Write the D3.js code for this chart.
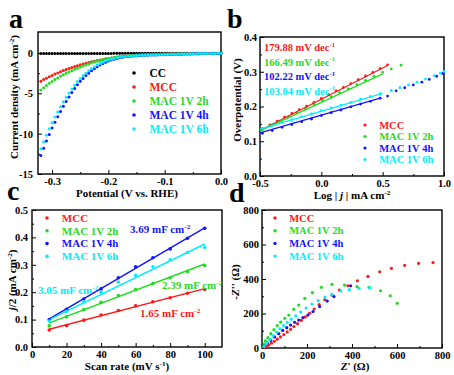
<!DOCTYPE html>
<html>
<head>
<meta charset="utf-8">
<script src="https://cdn.jsdelivr.net/npm/d3@7"></script>
<style>
  body { margin: 0; background: #fff; }
  svg { display: block; }
</style>
</head>
<body>
<script>
// ---------- data ----------
const seriesNames = ['MCC', 'MAC 1V 2h', 'MAC 1V 4h', 'MAC 1V 6h'];
const seriesColors = ['#ff1a1a', '#1fdd1f', '#1414ff', '#00eeff'];

// (a) LSV
const potA = [-0.320,-0.315,-0.310,-0.305,-0.300,-0.295,-0.290,-0.285,-0.280,-0.275,-0.270,-0.265,-0.260,-0.255,-0.250,-0.245,
  -0.240,-0.235,-0.230,-0.225,-0.220,-0.215,-0.210,-0.205,-0.200,-0.195,-0.190,-0.185,-0.180,-0.175,-0.170,-0.165,
  -0.160,-0.155,-0.150,-0.145,-0.140,-0.135,-0.130,-0.125,-0.120,-0.115,-0.110,-0.105,-0.100,-0.095,-0.090,-0.085,
  -0.080,-0.075,-0.070,-0.065,-0.060,-0.055,-0.050,-0.045,-0.040,-0.035,-0.030,-0.025,-0.020,-0.015,-0.010,-0.005,0.000];
const jCC = [-0.06,-0.06,-0.06,-0.06,-0.06,-0.06,-0.06,-0.06,-0.06,-0.06,-0.05,-0.05,-0.05,-0.05,-0.05,-0.05,
  -0.05,-0.05,-0.05,-0.05,-0.05,-0.05,-0.05,-0.05,-0.05,-0.05,-0.04,-0.04,-0.04,-0.04,-0.04,-0.04,
  -0.04,-0.04,-0.04,-0.04,-0.04,-0.04,-0.04,-0.04,-0.03,-0.03,-0.03,-0.03,-0.03,-0.03,-0.03,-0.03,
  -0.03,-0.03,-0.03,-0.03,-0.03,-0.03,-0.02,-0.02,-0.02,-0.02,-0.02,-0.02,-0.02,-0.02,-0.02,-0.02,-0.02];
const jMCC = [-3.5,-3.3,-3.12,-2.95,-2.78,-2.62,-2.47,-2.32,-2.18,-2.05,-1.92,-1.8,-1.68,-1.57,-1.47,-1.37,
  -1.27,-1.18,-1.1,-1.02,-0.94,-0.87,-0.8,-0.73,-0.67,-0.61,-0.56,-0.51,-0.46,-0.42,-0.38,-0.35,
  -0.32,-0.29,-0.27,-0.25,-0.23,-0.22,-0.21,-0.2,-0.19,-0.18,-0.17,-0.16,-0.15,-0.14,-0.14,-0.13,
  -0.13,-0.12,-0.12,-0.11,-0.11,-0.1,-0.1,-0.09,-0.09,-0.08,-0.08,-0.07,-0.07,-0.06,-0.06,-0.05,-0.05];
const j2h = [-4.6,-4.3,-4.02,-3.76,-3.52,-3.3,-3.09,-2.89,-2.7,-2.52,-2.35,-2.19,-2.03,-1.88,-1.74,-1.61,
  -1.48,-1.36,-1.24,-1.13,-1.03,-0.93,-0.84,-0.76,-0.68,-0.61,-0.55,-0.49,-0.44,-0.4,-0.36,-0.33,
  -0.3,-0.28,-0.26,-0.24,-0.22,-0.21,-0.2,-0.19,-0.18,-0.17,-0.16,-0.15,-0.14,-0.14,-0.13,-0.13,
  -0.12,-0.12,-0.11,-0.11,-0.1,-0.1,-0.09,-0.09,-0.08,-0.08,-0.07,-0.07,-0.06,-0.06,-0.05,-0.05,-0.04];
const j4h = [-12.7,-11.8,-10.9,-10.1,-9.3,-8.6,-7.9,-7.25,-6.6,-6.0,-5.45,-4.9,-4.4,-3.95,-3.5,-3.15,
  -2.8,-2.5,-2.2,-1.95,-1.7,-1.5,-1.3,-1.15,-1.0,-0.88,-0.78,-0.68,-0.6,-0.53,-0.48,-0.44,
  -0.4,-0.37,-0.34,-0.32,-0.3,-0.28,-0.27,-0.26,-0.25,-0.24,-0.23,-0.22,-0.21,-0.2,-0.19,-0.18,
  -0.17,-0.16,-0.15,-0.14,-0.13,-0.12,-0.11,-0.1,-0.09,-0.08,-0.08,-0.07,-0.06,-0.06,-0.05,-0.05,-0.04];
const j6h = [-11.9,-11.0,-10.2,-9.4,-8.65,-7.95,-7.3,-6.65,-6.05,-5.5,-4.95,-4.45,-4.0,-3.55,-3.15,-2.8,
  -2.5,-2.2,-1.95,-1.7,-1.5,-1.3,-1.15,-1.0,-0.88,-0.78,-0.68,-0.6,-0.53,-0.47,-0.43,-0.39,
  -0.36,-0.33,-0.31,-0.29,-0.27,-0.26,-0.25,-0.24,-0.23,-0.22,-0.21,-0.2,-0.19,-0.18,-0.17,-0.16,
  -0.15,-0.14,-0.13,-0.12,-0.12,-0.11,-0.1,-0.09,-0.08,-0.08,-0.07,-0.06,-0.06,-0.05,-0.05,-0.04,-0.04];

// (b) Tafel: [log|j|, overpotential]
const tafelMCC = [[-0.48,0.136],[-0.42,0.147],[-0.36,0.158],[-0.30,0.169],[-0.24,0.180],[-0.18,0.191],[-0.12,0.201],
  [-0.06,0.212],[0.00,0.223],[0.06,0.234],[0.12,0.245],[0.18,0.255],[0.24,0.266],[0.30,0.277],[0.36,0.288],
  [0.42,0.298],[0.48,0.309],[0.54,0.320]];
const tafel2h = [[-0.48,0.134],[-0.41,0.146],[-0.34,0.158],[-0.27,0.170],[-0.20,0.182],[-0.13,0.193],[-0.06,0.205],
  [0.01,0.217],[0.08,0.228],[0.15,0.240],[0.22,0.251],[0.29,0.263],[0.36,0.275],[0.43,0.287],[0.50,0.298],
  [0.57,0.308],[0.65,0.319]];
const tafel4h = [[-0.48,0.123],[-0.40,0.131],[-0.32,0.140],[-0.24,0.148],[-0.16,0.156],[-0.08,0.164],[0.00,0.174],
  [0.08,0.182],[0.16,0.190],[0.24,0.199],[0.32,0.207],[0.40,0.215],[0.48,0.224],[0.54,0.230],[0.61,0.245],
  [0.68,0.254],[0.75,0.262],[0.82,0.270],[0.88,0.278],[0.94,0.287],[0.99,0.295]];
const tafel6h = [[-0.48,0.137],[-0.40,0.146],[-0.32,0.154],[-0.24,0.162],[-0.16,0.171],[-0.08,0.179],[0.00,0.188],
  [0.08,0.196],[0.16,0.204],[0.24,0.212],[0.32,0.221],[0.40,0.229],[0.48,0.237],[0.57,0.246],[0.64,0.254],
  [0.71,0.262],[0.78,0.270],[0.85,0.279],[0.92,0.289],[0.97,0.296],[1.00,0.301]];
const tafelFits = [[[-0.5,0.131],[0.54,0.318]], [[-0.5,0.130],[0.5,0.294]], [[-0.5,0.124],[0.48,0.224]], [[-0.5,0.135],[0.5,0.238]]];
const tafelSlopes = ['179.88', '166.49', '102.22', '103.04'];

// (c) Cdl
const scanRates = [10, 20, 30, 40, 50, 60, 70, 80, 90, 100];
const cdlMCC = [0.062, 0.078, 0.098, 0.117, 0.133, 0.150, 0.165, 0.180, 0.196, 0.210];
const cdl2h = [0.077, 0.110, 0.137, 0.163, 0.188, 0.210, 0.232, 0.253, 0.276, 0.297];
const cdl4h = [0.100, 0.138, 0.175, 0.212, 0.253, 0.293, 0.326, 0.358, 0.397, 0.433];
const cdl6h = [0.095, 0.130, 0.165, 0.200, 0.237, 0.262, 0.293, 0.318, 0.345, 0.363];
const cdlFits = [[[10,0.065],[100,0.213]], [[10,0.088],[100,0.303]], [[10,0.103],[100,0.435]], [[10,0.100],[100,0.376]]];
const cdlValues = ['1.65', '2.39', '3.69', '3.05'];

// (d) Nyquist: [Z', -Z'']
const nyqMCC = [[12,4],[20,10],[30,18],[42,28],[55,39],[68,51],[82,64],[97,78],[112,93],[127,108],[142,124],
  [158,141],[175,160],[193,180],[212,202],[232,226],[254,252],[279,280],[311,307],[344,336],[382,361],[424,390],
  [471,415],[523,442],[575,462],[634,479],[696,491],[760,495]];
const nyq2h = [[6,8],[10,22],[15,41],[26,60],[39,83],[53,106],[68,130],[83,150],[101,172],[119,191],[141,224],
  [163,249],[190,288],[224,321],[264,352],[311,369],[367,365],[422,356],[476,352],[527,332],[570,303],[601,259]];
const nyq4h = [[9,13],[24,29],[39,44],[56,64],[74,83],[92,102],[110,118],[127,133],[145,149],[163,162],[182,176],
  [204,191],[227,211],[256,240],[290,272],[320,298],[394,361]];
const nyq6h = [[10,12],[22,30],[35,50],[50,72],[65,92],[80,112],[96,130],[112,148],[130,166],[150,186],[172,208],
  [196,232],[222,255],[250,275],[280,295],[311,311],[350,330],[388,338],[431,346],[479,350]];

// ---------- drawing ----------
const FONT = '"Liberation Serif","Times New Roman",serif';
const svg = d3.select('body').append('svg').attr('width', 454).attr('height', 375)
  .attr('font-family', FONT).attr('font-weight', 'bold');

function styleAxis(g, size) {
  g.select('.domain').remove();
  g.selectAll('line').attr('stroke', '#000').attr('stroke-width', 1);
  g.attr('font-family', FONT).attr('font-size', size).attr('font-weight', 'bold');
  g.selectAll('text').attr('fill', '#000');
}

function makePanel(p) {
  const x = d3.scaleLinear().domain(p.xDomain).range([p.left, p.right]);
  const y = d3.scaleLinear().domain(p.yDomain).range([p.bottom, p.top]);
  const g = svg.append('g');
  g.append('g').attr('transform', `translate(0,${p.bottom})`)
    .call(d3.axisBottom(x).tickValues(p.xMinor).tickSize(-2).tickFormat(''))
    .call(a => styleAxis(a, 10.5));
  g.append('g').attr('transform', `translate(${p.left},0)`)
    .call(d3.axisLeft(y).tickValues(p.yMinor).tickSize(-2).tickFormat(''))
    .call(a => styleAxis(a, 10.5));
  g.append('g').attr('transform', `translate(0,${p.bottom})`)
    .call(d3.axisBottom(x).tickValues(p.xTicks).tickSize(-4).tickPadding(p.xPad).tickFormat(p.xFmt))
    .call(a => styleAxis(a, 10.5));
  g.append('g').attr('transform', `translate(${p.left},0)`)
    .call(d3.axisLeft(y).tickValues(p.yTicks).tickSize(-4).tickPadding(p.yPad).tickFormat(p.yFmt))
    .call(a => styleAxis(a, 10.5));
  g.append('rect').attr('x', p.left).attr('y', p.top)
    .attr('width', p.right - p.left).attr('height', p.bottom - p.top)
    .attr('fill', 'none').attr('stroke', '#000').attr('stroke-width', 1.4);
  const plot = g.append('g');
  return {x, y, g, plot};
}

// rich text: parts = [[text, 'n'|'i'|'sup']]
function richText(parent, parts, size) {
  const t = parent.append('text').attr('font-size', size);
  let up = false;
  parts.forEach(([s, kind]) => {
    const ts = t.append('tspan').text(s);
    if (kind === 'i') ts.attr('font-style', 'italic');
    if (kind === 'sup' && !up) { ts.attr('dy', -size * 0.4).attr('font-size', size * 0.65); up = true; }
    else if (kind !== 'sup' && up) { ts.attr('dy', size * 0.4); up = false; }
  });
  return t;
}

function panelLabel(txt, x, y) {
  svg.append('text').attr('x', x).attr('y', y).attr('font-size', 28).text(txt);
}

function legend(g, items, x0, y0, dy, size, r) {
  items.forEach((it, i) => {
    g.append('circle').attr('cx', x0).attr('cy', y0 + i * dy).attr('r', r).attr('fill', it.color);
    g.append('text').attr('x', x0 + (size * 1.35)).attr('y', y0 + i * dy + size * 0.35)
      .attr('font-size', size).attr('fill', it.color).text(it.name);
  });
}

const fmt1 = d => d.toFixed(1);
const fmt0 = d => String(d);

// ---- panel a ----
{
  const p = makePanel({left: 38, right: 221, top: 32, bottom: 174,
    xDomain: [-0.325, 0], yDomain: [-15, 2.6],
    xTicks: [-0.3, -0.2, -0.1, 0], xMinor: [-0.25, -0.15, -0.05], xFmt: fmt1, xPad: 4,
    yTicks: [0, -5, -10, -15], yMinor: [-2.5, -7.5, -12.5], yFmt: fmt0, yPad: 5});
  const all = [jCC, jMCC, j2h, j4h, j6h];
  const cols = ['#000', ...seriesColors];
  all.forEach((arr, k) => {
    p.plot.selectAll(null).data(arr).join('circle')
      .attr('cx', (d, i) => p.x(potA[i])).attr('cy', d => p.y(d))
      .attr('r', 1.5).attr('fill', cols[k]);
  });
  legend(p.g, [{name: 'CC', color: '#000'}, ...seriesNames.map((n, i) => ({name: n, color: seriesColors[i]}))],
    134, 73, 14, 11.5, 1.8);
  richText(p.g, [['Current density (mA cm', 'n'], ['-2', 'sup'], [')', 'n']], 11)
    .attr('transform', 'translate(18,97) rotate(-90)').attr('text-anchor', 'middle');
  p.g.append('text').attr('x', 127).attr('y', 197).attr('font-size', 11)
    .attr('text-anchor', 'middle').text('Potential (V vs. RHE)');
  panelLabel('a', 9, 28);
}

// ---- panel b ----
{
  const p = makePanel({left: 260, right: 444, top: 37, bottom: 176,
    xDomain: [-0.5, 1.0], yDomain: [0, 0.4],
    xTicks: [-0.5, 0, 0.5, 1.0], xMinor: [-0.25, 0.25, 0.75], xFmt: fmt1, xPad: 4,
    yTicks: [0, 0.1, 0.2, 0.3, 0.4], yMinor: [0.05, 0.15, 0.25, 0.35], yFmt: fmt1, yPad: 3});
  const all = [tafelMCC, tafel2h, tafel4h, tafel6h];
  all.forEach((arr, k) => {
    p.plot.selectAll(null).data(arr).join('circle')
      .attr('cx', d => p.x(d[0])).attr('cy', d => p.y(d[1]))
      .attr('r', 1.4).attr('fill', seriesColors[k]);
  });
  tafelFits.forEach((f, k) => {
    p.plot.append('line').attr('x1', p.x(f[0][0])).attr('y1', p.y(f[0][1]))
      .attr('x2', p.x(f[1][0])).attr('y2', p.y(f[1][1]))
      .attr('stroke', seriesColors[k]).attr('stroke-width', 1.3);
  });
  tafelSlopes.forEach((s, k) => {
    richText(p.g, [[s + ' mV dec', 'n'], ['-1', 'sup']], 10.5)
      .attr('x', 264).attr('y', 51 + k * 14.5).attr('fill', seriesColors[k]);
  });
  legend(p.g, seriesNames.map((n, i) => ({name: n, color: seriesColors[i]})), 365, 125, 11.5, 10.5, 1.6);
  p.g.append('text').attr('transform', 'translate(241,100) rotate(-90)').attr('text-anchor', 'middle')
    .attr('font-size', 11).text('Overpotential (V)');
  richText(p.g, [['Log | ', 'n'], ['j', 'i'], [' | mA cm', 'n'], ['-2', 'sup']], 11)
    .attr('x', 352).attr('y', 199).attr('text-anchor', 'middle');
  panelLabel('b', 227, 28);
}

// ---- panel c ----
{
  const p = makePanel({left: 32, right: 222, top: 210, bottom: 347,
    xDomain: [0, 110], yDomain: [0, 0.5],
    xTicks: [0, 20, 40, 60, 80, 100], xMinor: [10, 30, 50, 70, 90], xFmt: fmt0, xPad: 4,
    yTicks: [0, 0.1, 0.2, 0.3, 0.4, 0.5], yMinor: [0.05, 0.15, 0.25, 0.35, 0.45], yFmt: fmt1, yPad: 4});
  cdlFits.forEach((f, k) => {
    p.plot.append('line').attr('x1', p.x(f[0][0])).attr('y1', p.y(f[0][1]))
      .attr('x2', p.x(f[1][0])).attr('y2', p.y(f[1][1]))
      .attr('stroke', seriesColors[k]).attr('stroke-width', 1.5);
  });
  [cdlMCC, cdl2h, cdl4h, cdl6h].forEach((arr, k) => {
    p.plot.selectAll(null).data(arr).join('circle')
      .attr('cx', (d, i) => p.x(scanRates[i])).attr('cy', d => p.y(d))
      .attr('r', 1.8).attr('fill', seriesColors[k]);
  });
  const annPos = [[140, 317], [162, 289], [130, 233], [38, 294]];
  cdlValues.forEach((v, k) => {
    richText(p.g, [[v + ' mF cm', 'n'], ['-2', 'sup']], 11)
      .attr('x', annPos[k][0]).attr('y', annPos[k][1]).attr('fill', seriesColors[k]);
  });
  legend(p.g, seriesNames.map((n, i) => ({name: n, color: seriesColors[i]})), 47, 218, 12.8, 11, 1.8);
  richText(p.g, [['j', 'i'], ['/2 (mA cm', 'n'], ['-2', 'sup'], [')', 'n']], 11)
    .attr('transform', 'translate(16,280) rotate(-90)').attr('text-anchor', 'middle');
  richText(p.g, [['Scan rate (mV s', 'n'], ['-1', 'sup'], [')', 'n']], 11)
    .attr('x', 127).attr('y', 370).attr('text-anchor', 'middle');
  panelLabel('c', 7, 200);
}

// ---- panel d ----
{
  const p = makePanel({left: 262, right: 442, top: 210, bottom: 348,
    xDomain: [0, 800], yDomain: [0, 800],
    xTicks: [0, 200, 400, 600, 800], xMinor: [100, 300, 500, 700], xFmt: fmt0, xPad: 4,
    yTicks: [0, 200, 400, 600, 800], yMinor: [100, 300, 500, 700], yFmt: fmt0, yPad: 3});
  [nyqMCC, nyq2h, nyq4h, nyq6h].forEach((arr, k) => {
    p.plot.selectAll(null).data(arr).join('circle')
      .attr('cx', d => p.x(d[0])).attr('cy', d => p.y(d[1]))
      .attr('r', 1.6).attr('fill', seriesColors[k]);
  });
  legend(p.g, seriesNames.map((n, i) => ({name: n, color: seriesColors[i]})), 275, 218, 12.7, 10.5, 1.7);
  richText(p.g, [['-', 'n'], ['Z', 'i'], ["'' (Ω)", 'n']], 11)
    .attr('transform', 'translate(239,282) rotate(-90)').attr('text-anchor', 'middle');
  richText(p.g, [['Z', 'i'], ["' (Ω)", 'n']], 11)
    .attr('x', 355).attr('y', 370).attr('text-anchor', 'middle');
  panelLabel('d', 229, 202);
}
</script>
</body>
</html>
